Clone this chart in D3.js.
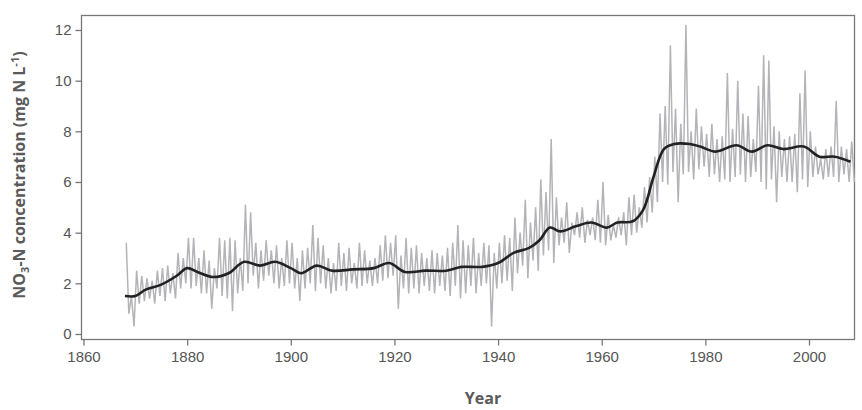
<!DOCTYPE html>
<head>
<meta charset="utf-8" />
<script src="https://d3js.org/d3.v7.min.js"></script>
<style>
  body { margin: 0; background: #fff; }
  .tick text { font-family: "Liberation Sans", Arial, sans-serif; font-size: 15px; fill: #555; }
  .lab { font-family: "Open Sans", sans-serif; font-weight: bold; font-size: 16px; fill: #5a5a5a; }
</style>
</head>
<body>
<script>
// annual peaks and troughs of the monthly series, 1868-2008
var firstYear = 1868;
var highs = [3.6,1.5,2.5,2.3,2.2,2.1,2.5,2.6,2.7,2.4,3.2,3.0,
  3.8,3.8,3.0,3.3,2.9,2.6,3.8,3.7,3.8,3.7,
  3.0,5.1,4.8,3.6,3.3,3.7,3.3,3.5,3.0,3.7,
  3.6,3.0,3.3,3.4,4.3,3.8,3.5,3.0,2.8,3.6,
  3.2,3.4,2.8,3.6,3.3,2.9,3.0,3.5,3.9,3.6,
  3.9,3.1,3.8,3.4,3.5,3.2,3.0,3.3,3.2,3.1,
  3.4,3.6,4.3,3.7,3.5,3.8,3.2,3.6,3.5,3.2,
  3.6,3.9,3.8,4.6,4.0,5.3,4.4,5.0,6.1,5.6,
  7.7,5.4,4.6,5.2,4.4,4.8,5.0,4.5,4.6,5.3,
  6.0,4.7,4.3,4.6,4.8,5.4,5.5,5.0,5.8,6.2,
  7.0,8.7,9.0,11.4,8.9,8.3,12.2,8.0,8.9,8.2,
  7.9,8.3,7.7,7.8,10.3,8.1,10.0,8.7,8.6,7.7,
  9.8,11.0,10.8,8.2,8.0,7.7,7.8,7.9,9.5,10.4,
  8.0,7.4,6.9,7.3,7.4,9.2,7.4,7.3,7.6];
var lows = [0.8,0.3,1.2,1.3,1.4,1.2,1.5,1.3,1.6,1.4,1.8,2.0,
  1.8,1.9,1.6,1.6,1.0,1.8,1.5,1.4,0.9,1.6,
  1.7,2.0,2.3,1.8,2.1,2.3,2.0,1.8,1.9,2.0,
  1.8,1.3,1.8,2.0,1.7,2.0,1.8,1.6,1.7,1.9,
  1.7,2.0,1.8,1.9,2.0,1.9,2.0,2.1,2.2,2.3,
  1.0,1.8,1.6,1.8,1.6,1.9,1.7,1.6,1.9,1.7,
  1.5,1.9,1.4,1.6,1.9,1.6,1.9,2.0,0.3,1.8,
  2.0,2.1,1.7,2.4,2.7,2.2,2.9,2.5,3.1,3.3,
  2.8,3.5,3.6,3.2,3.9,3.8,3.6,3.9,3.7,3.6,
  3.5,3.7,3.8,3.9,3.5,3.9,4.0,4.2,4.4,4.8,
  5.2,6.0,5.9,6.4,5.2,6.3,6.4,6.1,6.5,6.6,
  6.2,6.3,6.0,6.1,6.0,6.2,6.3,6.0,6.2,6.4,
  6.0,5.7,6.1,5.2,6.2,6.0,6.0,5.6,6.1,5.8,
  6.2,6.3,6.1,6.2,6.2,6.0,6.3,6.0,6.0];
// smoothed trend
var smoothYears = [1868,1870,1872,1875,1878,1880,1882,1885,1888,1891,1894,1897,1900,1902,1905,1908,1912,1916,1919,1922,1926,1930,1933,1937,1940,1943,1946,1948,1950,1952,1955,1958,1961,1963,1966,1968,1970,1972,1974,1977,1979,1982,1986,1989,1992,1995,1999,2002,2005,2008];
var smoothVals = [1.5,1.5,1.75,1.95,2.3,2.6,2.45,2.25,2.4,2.85,2.7,2.85,2.6,2.4,2.7,2.5,2.55,2.6,2.8,2.45,2.5,2.5,2.65,2.65,2.8,3.2,3.4,3.7,4.2,4.05,4.25,4.4,4.2,4.4,4.45,4.9,6.2,7.3,7.5,7.5,7.4,7.2,7.45,7.2,7.45,7.3,7.4,7.0,7.0,6.8];
var xTicks = [1860,1880,1900,1920,1940,1960,1980,2000];
var yTicks = [0,2,4,6,8,10,12];

var width = 862, height = 410;
var svg = d3.select("body").append("svg").attr("width", width).attr("height", height);

var x = d3.scaleLinear().domain([1860, 2000]).range([83.5, 809]);
var y = d3.scaleLinear().domain([0, 12]).range([334, 30]);

// frame
svg.append("rect").attr("x", 81.5).attr("y", 15.5).attr("width", 773).attr("height", 324)
  .attr("fill", "none").attr("stroke", "#777").attr("stroke-width", 1.3);

var raw = [];
highs.forEach(function (h, i) {
  raw.push([firstYear + i + 0.25, h]);
  raw.push([firstYear + i + 0.75, lows[i]]);
});
svg.append("path").datum(raw)
  .attr("fill", "none").attr("stroke", "#b4b4b8").attr("stroke-width", 1.5)
  .attr("d", d3.line().x(d => x(d[0])).y(d => y(d[1])));

svg.append("path").datum(smoothYears.map((yr, i) => [yr, smoothVals[i]]))
  .attr("fill", "none").attr("stroke", "#222").attr("stroke-width", 2.6)
  .attr("d", d3.line().curve(d3.curveCatmullRom).x(d => x(d[0])).y(d => y(d[1])));

var xa = svg.append("g").attr("transform", "translate(0,339.5)")
  .call(d3.axisBottom(x).tickValues(xTicks).tickFormat(d3.format("d")).tickSize(6).tickPadding(6));
var ya = svg.append("g").attr("transform", "translate(81.5,0)")
  .call(d3.axisLeft(y).tickValues(yTicks).tickSize(6).tickPadding(4));
[xa, ya].forEach(function (a) {
  a.select(".domain").remove();
  a.selectAll("line").attr("stroke", "#777").attr("stroke-width", 1.3);
});

svg.append("text").attr("class", "lab").attr("x", 483).attr("y", 404)
  .attr("text-anchor", "middle").text("Year");

var yl = svg.append("text").attr("class", "lab").attr("text-anchor", "middle")
  .attr("transform", "translate(25,175) rotate(-90)");
yl.append("tspan").text("NO");
yl.append("tspan").attr("font-size", "11px").attr("dy", 4).text("3");
yl.append("tspan").attr("dy", -4).text("-N concentration (mg N L");
yl.append("tspan").attr("font-size", "11px").attr("dy", -6).text("-1");
yl.append("tspan").attr("dy", 6).text(")");
</script>
</body>
